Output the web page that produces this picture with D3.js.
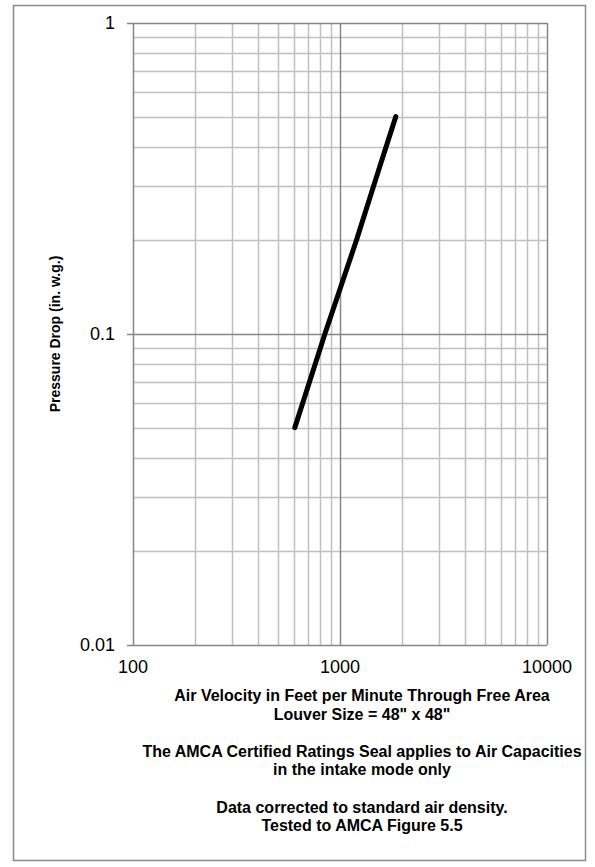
<!DOCTYPE html>
<html>
<head>
<meta charset="utf-8">
<script src="https://cdnjs.cloudflare.com/ajax/libs/d3/7.8.5/d3.min.js"></script>
<style>
  body { margin: 0; background: #fff; }
  text { font-family: "Liberation Sans", Arial, sans-serif; fill: #000; }
</style>
</head>
<body>
<svg id="chart"></svg>
<script>
// Data
const velocity = [605, 845, 1200, 1500, 1860];
const pressure = [0.05, 0.1, 0.2, 0.32, 0.5];
const yTicks = [0.01, 0.1, 1];
const xTicks = [100, 1000, 10000];
const notes = [
  'Air Velocity in Feet per Minute Through Free Area',
  'Louver Size = 48" x 48"',
  '',
  'The AMCA Certified Ratings Seal applies to Air Capacities',
  'in the intake mode only',
  '',
  'Data corrected to standard air density.',
  'Tested to AMCA Figure 5.5'
];

// Setup
const width = 595,
      height = 867;
const plot = { left: 133, top: 23, right: 547, bottom: 645 };

const svg = d3.select('#chart')
  .attr('width', width)
  .attr('height', height);

// outer frame
svg.append('rect')
  .attr('x', 13.5).attr('y', 5.5)
  .attr('width', 572).attr('height', 855)
  .attr('fill', 'none')
  .attr('stroke', '#8c8c8c')
  .attr('stroke-width', 1.5);

const x = d3.scaleLog()
  .domain([100, 10000])
  .range([plot.left, plot.right]);

const y = d3.scaleLog()
  .domain([0.01, 1])
  .range([plot.bottom, plot.top]);

// minor grid
const minorX = x.ticks().filter(d => !xTicks.includes(d));
const minorY = y.ticks().filter(d => !yTicks.some(t => Math.abs(t - d) < 1e-9));

const grid = svg.append('g');
grid.selectAll('.vx')
  .data(minorX)
  .enter().append('line')
  .attr('x1', d => Math.round(x(d)) + 0.5)
  .attr('x2', d => Math.round(x(d)) + 0.5)
  .attr('y1', plot.top)
  .attr('y2', plot.bottom)
  .attr('stroke', '#c0c0c0')
  .attr('stroke-width', 1.5);

grid.selectAll('.hy')
  .data(minorY)
  .enter().append('line')
  .attr('x1', plot.left)
  .attr('x2', plot.right)
  .attr('y1', d => Math.round(y(d)) + 0.5)
  .attr('y2', d => Math.round(y(d)) + 0.5)
  .attr('stroke', '#c0c0c0')
  .attr('stroke-width', 1.5);

// major grid
grid.selectAll('.mx')
  .data(xTicks)
  .enter().append('line')
  .attr('x1', d => Math.round(x(d)) + 0.5)
  .attr('x2', d => Math.round(x(d)) + 0.5)
  .attr('y1', plot.top)
  .attr('y2', plot.bottom)
  .attr('stroke', '#868686')
  .attr('stroke-width', 1.5);

grid.selectAll('.my')
  .data(yTicks)
  .enter().append('line')
  .attr('x1', plot.left - 6)
  .attr('x2', plot.right)
  .attr('y1', d => Math.round(y(d)) + 0.5)
  .attr('y2', d => Math.round(y(d)) + 0.5)
  .attr('stroke', '#868686')
  .attr('stroke-width', 1.5);

// tick labels
svg.selectAll('.ylab')
  .data(yTicks)
  .enter().append('text')
  .attr('x', 115)
  .attr('y', d => y(d) + 6)
  .attr('text-anchor', 'end')
  .style('font-size', '18px')
  .text(d => d3.format('~g')(d));

svg.selectAll('.xlab')
  .data(xTicks)
  .enter().append('text')
  .attr('x', d => x(d))
  .attr('y', 673)
  .attr('text-anchor', 'middle')
  .style('font-size', '18px')
  .text(d => d);

// y title
svg.append('text')
  .attr('transform', 'translate(60,334) rotate(-90)')
  .attr('text-anchor', 'middle')
  .style('font-size', '14px')
  .style('font-weight', 'bold')
  .text('Pressure Drop (in. w.g.)');

// data line
const line = d3.line()
  .x((d, i) => x(velocity[i]))
  .y(d => y(d));

svg.append('path')
  .datum(pressure)
  .attr('d', line)
  .attr('fill', 'none')
  .attr('stroke', '#000')
  .attr('stroke-width', 5)
  .attr('stroke-linecap', 'round');

// notes
svg.selectAll('.note')
  .data(notes)
  .enter().append('text')
  .attr('x', 362)
  .attr('y', (d, i) => 701 + i * 18.6)
  .attr('text-anchor', 'middle')
  .style('font-size', '16px')
  .style('font-weight', 'bold')
  .text(d => d);
</script>
</body>
</html>
